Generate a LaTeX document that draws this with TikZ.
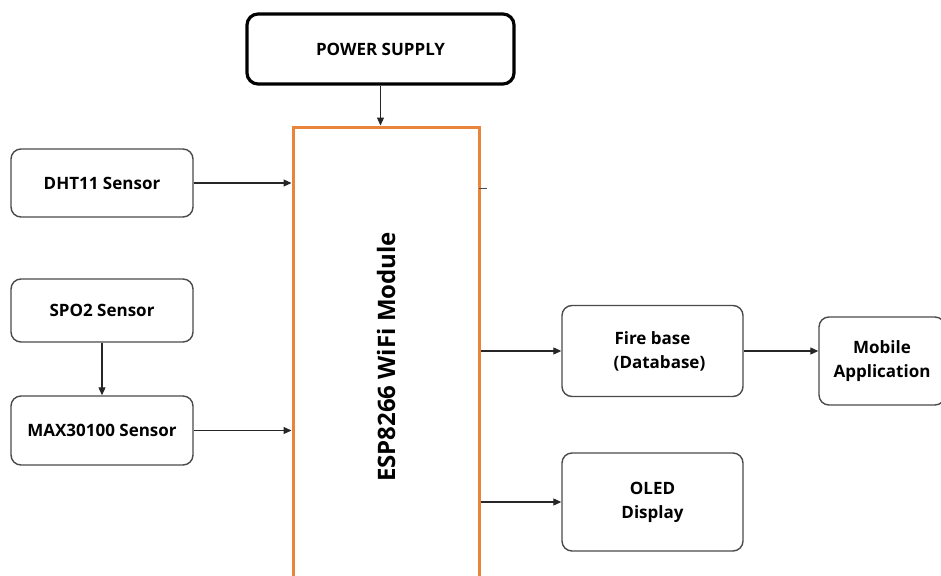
\documentclass[tikz,border=0pt]{standalone}
\usepackage{fontspec}
\setmainfont{Open Sans}
\usetikzlibrary{arrows.meta}
\definecolor{espor}{HTML}{E8853A}
\definecolor{boxgray}{HTML}{4A4A4A}
\begin{document}
\begin{tikzpicture}[x=1pt,y=-1pt,
  blk/.style={draw=boxgray,line width=1.4pt,rounded corners=10pt,align=center,
    inner sep=0pt,font=\fontsize{17}{24}\selectfont\bfseries},
  conn/.style={line width=1.1pt,draw=black!85,-{Triangle[length=8pt,width=7pt]}}]
\useasboundingbox[fill=white] (0,0) rectangle (941,575);
\node[draw=black,line width=3.2pt,rounded corners=11pt,minimum width=267pt,minimum height=70pt,
  font=\fontsize{17}{24}\selectfont\bfseries] (ps) at (380.5,49) {POWER SUPPLY};
\node[draw=espor,line width=3pt,minimum width=186pt,minimum height=470pt,inner sep=0pt] (esp) at (386,362) {};
\node[rotate=90,font=\fontsize{24}{28}\selectfont\bfseries] (esplbl) at (386,357) {ESP8266 WiFi Module};
\node[blk,minimum width=182pt,minimum height=68pt] (dht) at (102,183) {DHT11 Sensor};
\node[blk,minimum width=182pt,minimum height=63pt] (spo) at (102,310.5) {SPO2 Sensor};
\node[blk,minimum width=182pt,minimum height=69pt] (max) at (102,430.5) {MAX30100 Sensor};
\node[blk,minimum width=181pt,minimum height=91pt] (fb) at (652.5,351) {Fire base\\\hspace*{14pt}(Database)};
\node[blk,minimum width=126pt,minimum height=88pt] (mob) at (882,361) {Mobile\\Application};
\node[blk,minimum width=181pt,minimum height=98pt] (oled) at (652.5,502) {OLED\\Display};
\coordinate (tickA) at (479,188);
\coordinate (tickB) at (487,188);
\draw[line width=1pt,black!70] (tickA) -- (tickB);
\draw[conn] (ps.south) -- (ps.south |- esp.north);
\draw[conn] (dht.east) -- (esp.west |- dht.east);
\draw[conn] (max.east) -- (esp.west |- max.east);
\draw[conn] (spo.south) -- (max.north);
\draw[conn] (esp.east |- fb.west) -- (fb.west);
\draw[conn] (fb.east) -- (mob.west |- fb.east);
\draw[conn] (esp.east |- oled.west) -- (oled.west);
\end{tikzpicture}
\end{document}
